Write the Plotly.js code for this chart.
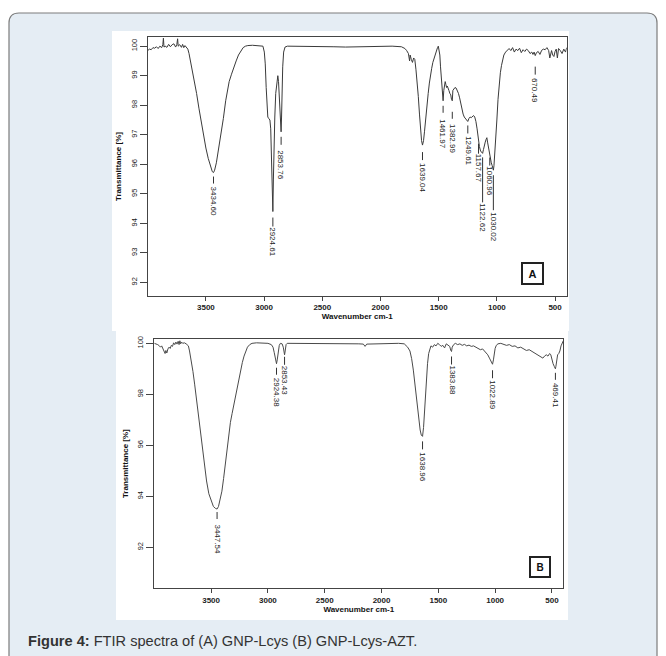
<!DOCTYPE html>
<html>
<head>
<meta charset="utf-8">
<script src="https://cdn.plot.ly/plotly-3.0.1.min.js"></script>
<style>
  html, body { margin: 0; padding: 0; background: #ffffff; }
  #chart { width: 666px; height: 656px; }
</style>
</head>
<body>
<div id="chart"></div>
<script>
// ---------------- DATA ----------------
// Spectrum A : GNP-Lcys  (wavenumber cm-1, transmittance %)
const wavenumberA = [4000,3985,3970,3955,3940,3925,3910,3895,3880,3870,3865,3860,3850,3835,3820,3805,3790,3775,3760,3750,3743,3738,3725,3710,3700,3690,3680,3665,3655,3645,3630,3615,3600,3580,3560,3540,3520,3500,3480,3460,3445,3434.6,3425,3410,3395,3380,3370,3350,3330,3315,3300,3280,3260,3240,3220,3200,3180,3160,3140,3100,3060,3030,3010,2998,2990,2982,2975,2968,2960,2950,2943,2935,2928,2924.6,2920,2915,2908,2900,2890,2882,2876,2868,2862,2856,2853.8,2850,2845,2840,2832,2820,2800,2700,2600,2500,2400,2300,2200,2100,2000,1900,1820,1790,1775,1760,1750,1745,1735,1725,1715,1705,1695,1685,1675,1665,1655,1647,1639,1630,1622,1612,1600,1590,1580,1570,1560,1550,1540,1530,1520,1510,1503,1497,1490,1484,1478,1472,1466,1462,1456,1450,1444,1438,1432,1426,1420,1412,1404,1396,1390,1383,1378,1370,1360,1350,1340,1330,1320,1310,1300,1290,1280,1270,1260,1250,1240,1230,1220,1210,1200,1190,1180,1170,1162,1157.7,1150,1140,1130,1122.6,1115,1108,1100,1092,1086,1080,1072,1065,1061,1055,1048,1040,1035,1030,1025,1018,1010,1000,990,980,970,960,950,940,925,910,895,880,865,850,835,820,805,790,775,760,745,730,715,700,690,680,670.5,660,645,630,615,600,585,570,555,545,538,530,520,510,500,490,480,470,455,440,425,410,400];
const transmittanceA = [99.85,99.9,99.88,99.95,99.93,99.98,99.92,100.0,99.95,100.05,100.27,99.97,100.0,99.96,100.06,99.98,100.05,100.08,99.97,100.05,100.25,100.0,100.05,99.96,100.06,99.95,100.02,99.92,99.9,99.75,99.45,99.05,98.75,98.4,97.9,97.4,96.95,96.55,96.2,95.9,95.75,95.72,95.8,96.05,96.4,96.8,97.0,97.55,98.15,98.5,98.8,99.05,99.3,99.5,99.7,99.85,99.95,100.0,100.02,100.03,100.02,100.03,100.0,99.8,99.4,98.6,97.9,97.6,97.55,97.5,97.2,96.2,95.0,94.4,95.5,96.6,97.6,98.4,98.9,99.0,98.8,98.2,97.6,97.15,97.1,97.6,98.6,99.3,99.8,99.97,100.0,100.0,99.99,100.0,99.98,99.97,99.98,99.98,100.0,100.0,99.98,99.92,99.85,99.75,99.5,99.7,99.55,99.45,99.6,99.55,99.2,98.8,98.3,97.7,97.15,96.8,96.65,96.8,97.1,97.6,98.1,98.4,98.75,99.05,99.25,99.45,99.6,99.7,99.85,99.95,100.0,99.9,99.7,99.3,98.9,98.5,98.25,98.15,98.5,98.7,98.8,98.7,98.6,98.65,98.55,98.5,98.4,98.35,98.2,98.15,98.5,98.55,98.6,98.58,98.5,98.4,98.25,98.05,97.85,97.7,97.6,97.55,97.52,97.45,97.55,97.6,97.58,97.62,97.65,97.6,97.45,97.2,96.95,96.8,96.6,96.45,96.4,96.37,96.5,96.65,96.75,96.85,96.9,96.75,96.55,96.4,96.33,96.2,96.05,95.95,95.85,95.8,95.95,96.3,96.85,97.5,98.2,98.75,99.1,99.35,99.55,99.7,99.8,99.85,99.92,99.85,99.95,99.8,99.9,99.85,99.93,99.78,99.88,99.82,99.9,99.85,99.75,99.8,99.72,99.8,99.68,99.78,99.82,99.72,99.86,99.9,99.88,99.95,99.85,99.6,99.78,99.85,99.7,99.65,99.82,99.9,99.6,99.92,99.85,99.75,99.9,99.8,99.95];

// Spectrum B : GNP-Lcys-AZT
const wavenumberB = [4000,3985,3970,3955,3945,3935,3925,3915,3905,3898,3890,3880,3870,3860,3850,3840,3830,3820,3810,3800,3790,3782,3775,3768,3760,3750,3735,3720,3700,3690,3675,3660,3645,3630,3615,3600,3580,3560,3540,3520,3500,3480,3460,3447.5,3435,3420,3405,3390,3375,3360,3345,3330,3315,3300,3285,3270,3255,3240,3225,3210,3195,3180,3160,3140,3100,3050,3000,2970,2955,2945,2935,2928,2924.4,2918,2910,2900,2890,2875,2865,2858,2853.4,2848,2840,2830,2700,2500,2300,2200,2160,2145,2130,2000,1850,1800,1770,1750,1735,1720,1705,1690,1675,1660,1650,1639,1630,1622,1615,1605,1595,1585,1575,1565,1550,1535,1520,1505,1490,1475,1460,1445,1430,1415,1400,1390,1384,1378,1365,1350,1330,1310,1290,1270,1250,1230,1210,1190,1170,1150,1130,1110,1095,1080,1065,1050,1040,1030,1023,1015,1008,1000,990,975,950,925,900,875,850,825,800,775,750,725,700,675,650,625,600,580,565,550,535,520,510,500,490,480,472,469.4,465,458,450,440,430,420,410,400];
const transmittanceB = [100.0,99.98,99.95,99.9,99.85,99.9,99.8,99.75,99.6,99.72,99.62,99.78,99.85,99.8,99.92,99.88,100.02,99.95,100.05,99.97,100.08,99.95,100.1,99.98,100.05,100.0,100.02,99.98,99.9,99.7,99.35,98.9,98.4,97.85,97.2,96.6,95.9,95.2,94.6,94.1,93.8,93.6,93.52,93.5,93.6,93.85,94.2,94.7,95.3,95.9,96.45,96.9,97.25,97.6,97.95,98.3,98.65,98.95,99.25,99.5,99.7,99.85,99.95,100.0,100.02,100.0,100.0,99.95,99.85,99.65,99.4,99.25,99.2,99.35,99.7,99.92,100.0,99.98,99.85,99.62,99.55,99.7,99.95,100.0,100.0,99.98,100.0,99.98,99.97,99.88,99.97,99.99,100.0,99.98,99.85,99.7,99.4,98.95,98.3,97.7,97.1,96.6,96.4,96.35,96.7,97.3,97.9,98.6,99.2,99.6,99.82,99.9,99.85,99.95,99.9,100.0,99.95,99.88,99.92,99.82,99.98,99.92,99.88,99.72,99.68,99.85,99.95,100.0,99.95,99.98,99.92,99.96,99.9,99.93,99.88,99.9,99.85,99.82,99.75,99.78,99.7,99.62,99.55,99.42,99.3,99.2,99.18,99.35,99.6,99.8,99.92,99.98,100.0,99.97,99.92,99.95,99.88,99.9,99.82,99.85,99.78,99.72,99.75,99.68,99.62,99.55,99.5,99.42,99.5,99.55,99.5,99.6,99.55,99.35,99.2,99.1,99.05,99.0,99.1,99.4,99.55,99.6,99.7,99.9,100.05,100.1];

// Peak labels
const peakWavenumberA = [3434.6, 2924.61, 2853.76, 1639.04, 1461.97, 1382.99, 1249.61, 1157.67, 1122.62, 1060.96, 1030.02, 670.49];
const peakLabelA = ['3434.60','2924.61','2853.76','1639.04','1461.97','1382.99','1249.61','1157.67','1122.62','1060.96','1030.02','670.49'];
const peakWavenumberB = [3447.54, 2924.38, 2853.43, 1638.96, 1383.88, 1022.89, 469.41];
const peakLabelB = ['3447.54','2924.38','2853.43','1638.96','1383.88','1022.89','469.41'];

// Axis ticks
const xTicks = [3500, 3000, 2500, 2000, 1500, 1000, 500];
const yTicksA = [92, 93, 94, 95, 96, 97, 98, 99, 100];
const yTicksB = [92, 94, 96, 98, 100];

// ---------------- LAYOUT HELPERS (pixel geometry, not data) ----------------
const W = 666, H = 656;
const fx = px => px / W;
const fy = py => 1 - py / H;
// leader layout per label: [gap above leader, leader length, gap before text] in px
const leaderA = [[4,7,5],[6,9,3],[5,8,7],[7,8,5],[5,7,8],[11,7,7],[4,8,5],[3,10,2],[4,45,3],[3,8,3],[5,35,4],[11,8,5]];
const leaderB = [[3,7,7],[4,7,5],[2,8,3],[5,8,5],[5,8,3],[6,8,4],[4,7,5]];

function nearestT(wArr, tArr, w) {
  let bi = 0, bd = Infinity;
  for (let i = 0; i < wArr.length; i++) {
    const d = Math.abs(wArr[i] - w);
    if (d < bd) { bd = d; bi = i; }
  }
  return tArr[bi];
}

const lineColor = '#3a3a3a';
const traces = [
  { x: wavenumberA, y: transmittanceA, xaxis: 'x', yaxis: 'y', type: 'scatter', mode: 'lines',
    line: { color: lineColor, width: 1 }, hoverinfo: 'skip', showlegend: false },
  { x: wavenumberB, y: transmittanceB, xaxis: 'x2', yaxis: 'y2', type: 'scatter', mode: 'lines',
    line: { color: '#4a4a4a', width: 1 }, hoverinfo: 'skip', showlegend: false }
];

const shapes = [];
const annotations = [];

// outer rounded frame
function roundedPath(x0, y0, x1, y1, r) {
  const p = (x, y) => fx(x).toFixed(5) + ',' + fy(y).toFixed(5);
  return 'M' + p(x0 + r, y0) + ' L' + p(x1 - r, y0) + ' Q' + p(x1, y0) + ' ' + p(x1, y0 + r) +
    ' L' + p(x1, y1) + ' L' + p(x0, y1) + ' L' + p(x0, y0 + r) + ' Q' + p(x0, y0) + ' ' + p(x0 + r, y0) + ' Z';
}
shapes.push({ type: 'path', xref: 'paper', yref: 'paper', layer: 'below',
  path: roundedPath(9, 13, 657, 720, 10), fillcolor: '#e5edf4', line: { color: '#7c7c7c', width: 1.2 } });
// white image panels
shapes.push({ type: 'rect', xref: 'paper', yref: 'paper', layer: 'below',
  x0: fx(112), x1: fx(569), y0: fy(331), y1: fy(31), fillcolor: '#ffffff', line: { width: 0 } });
shapes.push({ type: 'rect', xref: 'paper', yref: 'paper', layer: 'below',
  x0: fx(116), x1: fx(568), y0: fy(620), y1: fy(331), fillcolor: '#ffffff', line: { width: 0 } });

function addPeakLabels(wArr, tArr, peaks, labels, leaders, xr, yr) {
  peaks.forEach((w, i) => {
    const t = nearestT(wArr, tArr, w);
    const [g, len, g2] = leaders[i];
    shapes.push({ type: 'line', xref: xr, yref: yr, ysizemode: 'pixel', yanchor: t,
      x0: w, x1: w, y0: -g, y1: -(g + len), line: { color: '#333', width: 1 } });
    annotations.push({ x: w, y: t, xref: xr, yref: yr, text: labels[i], showarrow: false,
      textangle: 90, xanchor: 'center', yanchor: 'top', yshift: -(g + len + g2 - 2),
      borderpad: 0, borderwidth: 0,
      font: { family: 'Liberation Sans, Arial, sans-serif', size: 8, color: '#222' } });
  });
}
addPeakLabels(wavenumberA, transmittanceA, peakWavenumberA, peakLabelA, leaderA, 'x', 'y');
addPeakLabels(wavenumberB, transmittanceB, peakWavenumberB, peakLabelB, leaderB, 'x2', 'y2');

// panel letters
annotations.push({ xref: 'paper', yref: 'paper', x: fx(532), y: fy(273), text: '<b>A</b>', showarrow: false,
  xanchor: 'center', yanchor: 'middle', width: 17, height: 17, borderpad: 1, borderwidth: 2, bordercolor: '#222',
  bgcolor: '#fff', font: { family: 'Liberation Sans, Arial, sans-serif', size: 11, color: '#111' } });
annotations.push({ xref: 'paper', yref: 'paper', x: fx(539.5), y: fy(567), text: '<b>B</b>', showarrow: false,
  xanchor: 'center', yanchor: 'middle', width: 16, height: 16, borderpad: 1, borderwidth: 2, bordercolor: '#222',
  bgcolor: '#fff', font: { family: 'Liberation Sans, Arial, sans-serif', size: 10, color: '#111' } });

// caption
annotations.push({ xref: 'paper', yref: 'paper', x: fx(26), y: fy(641), xanchor: 'left', yanchor: 'middle',
  showarrow: false, text: '<b>Figure 4:</b> FTIR spectra of (A) GNP-Lcys (B) GNP-Lcys-AZT.',
  font: { family: 'Liberation Sans, Arial, sans-serif', size: 14.6, color: '#333' } });

const tickFontX = { family: 'Liberation Sans, Arial, sans-serif', size: 8, color: '#222', weight: 'bold' };
const tickFontY = { family: 'Liberation Sans, Arial, sans-serif', size: 7.5, color: '#222' };
const titleFont = { family: 'Liberation Sans, Arial, sans-serif', size: 8, color: '#111', weight: 'bold' };

function xAxis(domain, anchor) {
  return { domain: domain, anchor: anchor, range: [4000, 400], tickvals: xTicks, ticks: 'outside', ticklen: 4,
    tickcolor: '#444', tickwidth: 1, showline: true, mirror: true, linecolor: '#444', linewidth: 1,
    showgrid: false, zeroline: false, tickfont: tickFontX, fixedrange: true,
    title: { text: 'Wavenumber cm-1', font: titleFont, standoff: 2 } };
}
function yAxis(domain, anchor, range, ticks) {
  return { domain: domain, anchor: anchor, range: range, tickvals: ticks, ticks: 'outside', ticklen: 7,
    tickcolor: '#444', tickwidth: 1, showline: true, mirror: true, linecolor: '#444', linewidth: 1,
    showgrid: false, zeroline: false, tickfont: tickFontY, tickangle: -90, fixedrange: true,
    title: { text: 'Transmittance [%]', font: titleFont, standoff: 6 } };
}

const layout = {
  width: W, height: H,
  margin: { l: 0, r: 0, t: 0, b: 0 },
  paper_bgcolor: '#ffffff', plot_bgcolor: '#ffffff',
  showlegend: false,
  xaxis: xAxis([fx(147.7), fx(566.7)], 'y'),
  yaxis: yAxis([fy(295.7), fy(37.3)], 'x', [91.55, 100.3], yTicksA),
  xaxis2: xAxis([fx(154.3), fx(563.3)], 'y2'),
  yaxis2: yAxis([fy(588.3), fy(339)], 'x2', [90.39, 100.17], yTicksB),
  shapes: shapes,
  annotations: annotations
};

Plotly.newPlot('chart', traces, layout, { staticPlot: true, displayModeBar: false });
</script>
</body>
</html>
